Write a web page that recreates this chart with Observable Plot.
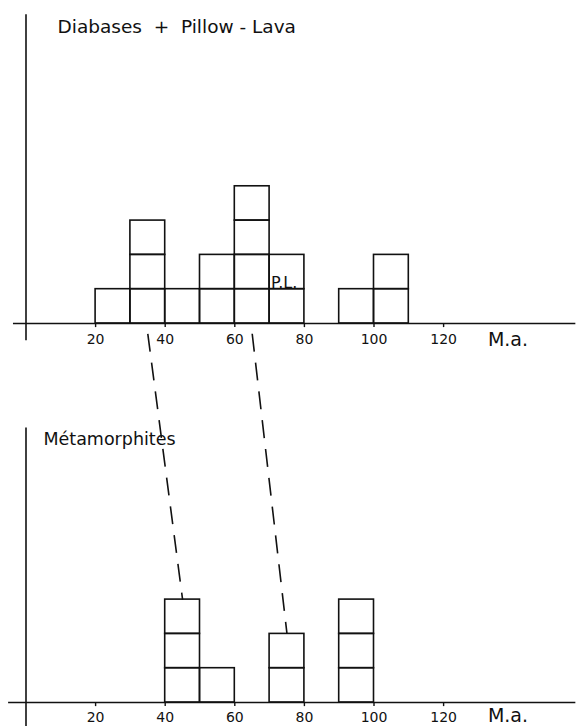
<!DOCTYPE html>
<html>
<head>
<meta charset="utf-8">
<script src="https://cdn.jsdelivr.net/npm/d3@7"></script>
<script src="https://cdn.jsdelivr.net/npm/@observablehq/plot@0.6"></script>
<style>
  html, body { margin: 0; padding: 0; background: #fff; }
  #chart svg { display: block; }
</style>
</head>
<body>
<div id="chart"></div>
<script>
// ---- Data (ages in Ma, counts = number of samples per 10 Ma bin) ----
const binWidth = 10;
const diabaseBins   = [20, 30, 40, 50, 60, 70, 80, 90, 100];
const diabaseCounts = [1, 3, 1, 2, 4, 2, 0, 1, 2];
const metaBins      = [40, 50, 60, 70, 80, 90];
const metaCounts    = [3, 1, 0, 2, 0, 3];
const tickValues    = [20, 40, 60, 80, 100, 120];
const axisUnit      = "M.a.";
const titleTop      = "Diabases  +  Pillow - Lava";
const titleBottom   = "Métamorphites";
const plLabel       = "P.L.";
const plBin         = 70;   // bin where "P.L." is written
const plLevel       = 1;    // written in the 2nd box of that bin
// correlation lines: from an age in the upper histogram to a bin in the lower one
const corrFrom = [35, 65];
const corrTo   = [45, 75];

// ---- Layout constants (panel baselines in y units, 1 unit = one sample box) ----
const BOTTOM_BASE = 0;
const TOP_BASE = 11.05;
const PX = 34.3; // pixels per unit (for layout offsets only)

function boxes(bins, counts, base) {
  const out = [];
  bins.forEach((b, i) => {
    for (let k = 0; k < counts[i]; k++) {
      out.push({x1: b, x2: b + binWidth, y1: base + k, y2: base + k + 1});
    }
  });
  return out;
}
const rects = [
  ...boxes(diabaseBins, diabaseCounts, TOP_BASE),
  ...boxes(metaBins, metaCounts, BOTTOM_BASE)
];

const links = corrFrom.map((f, i) => {
  const t = corrTo[i];
  const bi = metaBins.findIndex(b => t >= b && t < b + binWidth);
  return {x1: f, y1: TOP_BASE - 0.3, x2: t, y2: BOTTOM_BASE + metaCounts[bi]};
});

const panels = [
  {base: TOP_BASE, labelDy: 16.5, unitDy: 16},
  {base: BOTTOM_BASE, labelDy: 15.5, unitDy: 13.5}
];
const ticks = panels.flatMap(p => tickValues.map(v => ({x: v, base: p.base, dy: p.labelDy})));

const font = "'DejaVu Sans', 'Noto Sans', sans-serif";

const chart = Plot.plot({
  width: 576,
  height: 726,
  marginTop: 0,
  marginRight: 0,
  marginBottom: 24,
  marginLeft: 0,
  style: {fontFamily: font, background: "#fff", color: "#111"},
  x: {domain: [0, 120], range: [25.5, 25.5 + 120 * 3.48], axis: null},
  y: {domain: [0, 702 / PX], axis: null},
  marks: [
    // horizontal axes
    Plot.ruleY([TOP_BASE], {x1: -3.6, x2: 158, stroke: "#111", strokeWidth: 1.6, clip: false}),
    Plot.ruleY([BOTTOM_BASE], {x1: -5, x2: 158, stroke: "#111", strokeWidth: 1.6, clip: false}),
    // vertical axes
    Plot.ruleX([0], {y1: TOP_BASE + 9.0, y2: TOP_BASE - 0.5, stroke: "#111", strokeWidth: 1.6}),
    Plot.ruleX([0], {y1: BOTTOM_BASE + 8.0, y2: BOTTOM_BASE - 0.75, stroke: "#111", strokeWidth: 1.6}),
    // tick marks
    Plot.ruleX(ticks, {x: "x", y1: d => d.base, y2: d => d.base - 0.12, stroke: "#111", strokeWidth: 1.4}),
    // histogram boxes
    Plot.rect(rects, {x1: "x1", x2: "x2", y1: "y1", y2: "y2", fill: "none", stroke: "#111", strokeWidth: 1.6}),
    // tick labels (one text mark per panel for per-panel offsets)
    ...panels.map(p => Plot.text(ticks.filter(t => t.base === p.base), {
      x: "x", y: "base", text: d => String(d.x), dy: p.labelDy, fontSize: 14, fill: "#111"
    })),
    ...panels.map(p => Plot.text([axisUnit], {
      x: 138.5, y: p.base, text: d => d, dy: p.unitDy, fontSize: 19, fill: "#111"
    })),
    // titles
    Plot.text([titleTop], {x: 9.05, y: TOP_BASE + (323 - 27) / PX, text: d => d, textAnchor: "start", fontSize: 18.5, fill: "#111"}),
    Plot.text([titleBottom], {x: 5.0, y: BOTTOM_BASE + (702 - 439) / PX, text: d => d, textAnchor: "start", fontSize: 17.5, fill: "#111"}),
    // P.L. label
    Plot.text([plLabel], {x: plBin, y: TOP_BASE + plLevel, text: d => d, textAnchor: "start", lineAnchor: "bottom", dx: 1.5, dy: -1, fontSize: 16, fill: "#111"}),
    // dashed correlation lines
    Plot.link(links, {x1: "x1", y1: "y1", x2: "x2", y2: "y2", stroke: "#111", strokeWidth: 1.6, strokeDasharray: "18,11"})
  ]
});
document.getElementById("chart").appendChild(chart);
</script>
</body>
</html>
